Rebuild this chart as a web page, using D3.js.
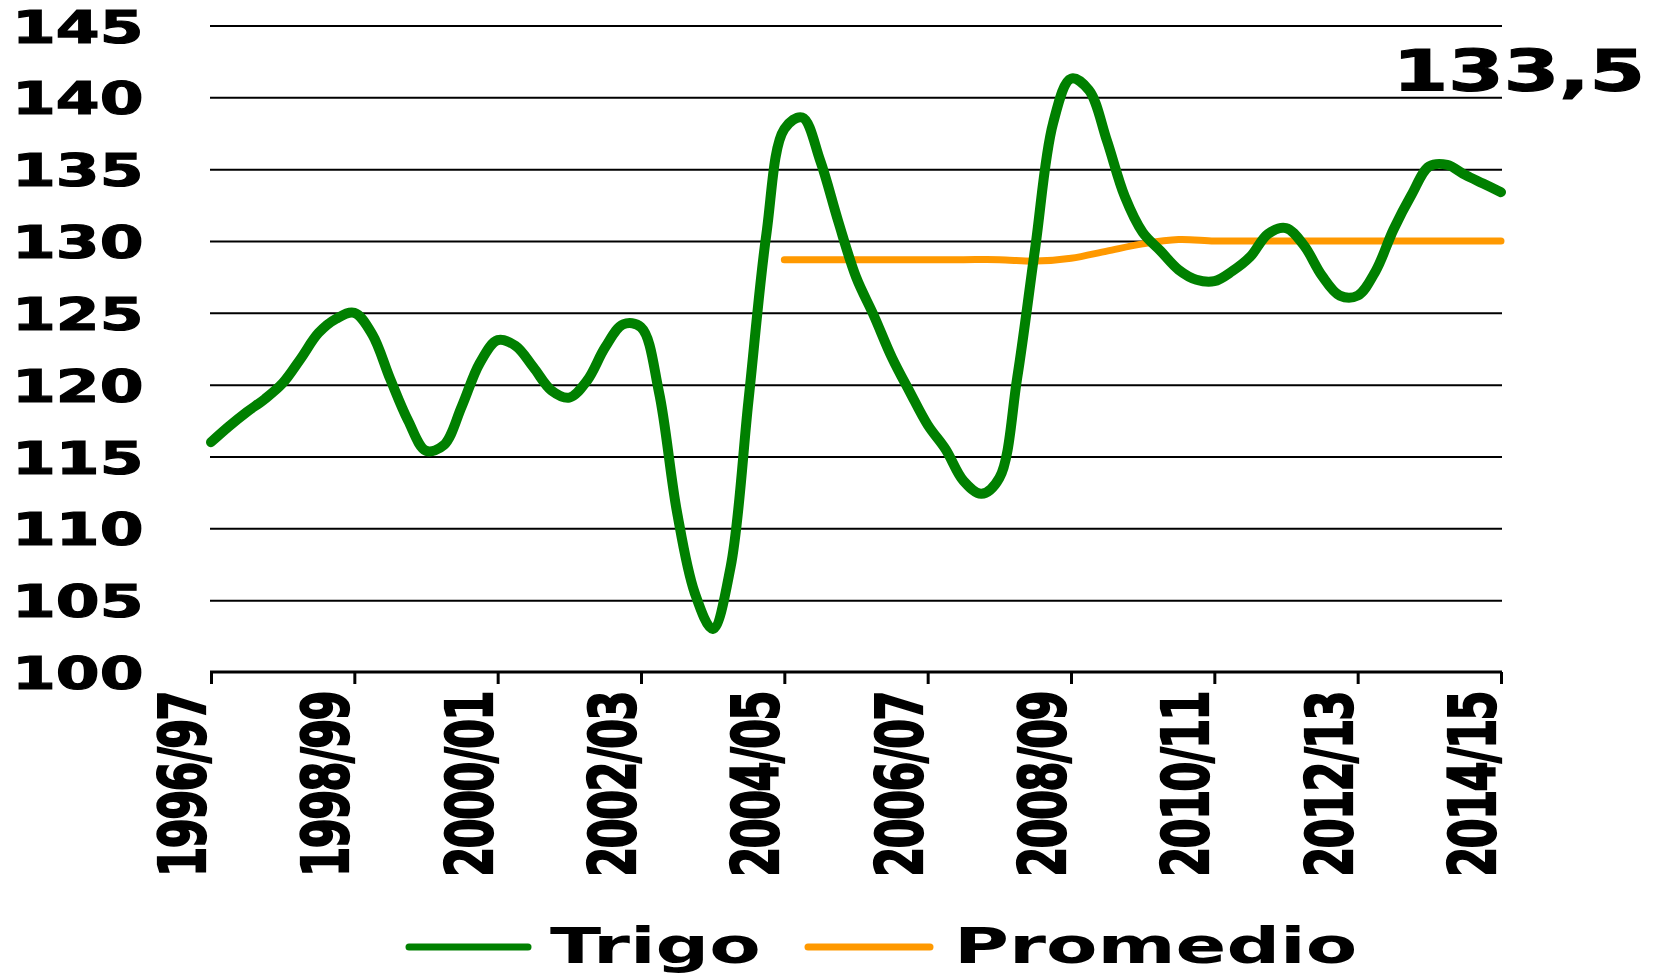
<!DOCTYPE html>
<html>
<head>
<meta charset="utf-8">
<script src="https://cdn.jsdelivr.net/npm/d3@7"></script>
<style>
  body { margin: 0; background: #fff; }
  svg text { font-family: "DejaVu Sans", sans-serif; font-weight: bold; fill: #000; }
</style>
</head>
<body>
<svg id="chart" width="1657" height="977"></svg>
<script>
// seasons on the category axis
const seasons = ["1996/97","1997/98","1998/99","1999/00","2000/01","2001/02","2002/03","2003/04","2004/05",
  "2005/06","2006/07","2007/08","2008/09","2009/10","2010/11","2011/12","2012/13","2013/14","2014/15"]
const yTicks = [100, 105, 110, 115, 120, 125, 130, 135, 140, 145]

// Trigo, read every quarter season (position 0 = 1996/97)
const trigoPos = d3.range(0, 18.01, 0.25)
const trigo = [
  116.0, 117.1, 118.1, 119.0, 120.1, 121.8, 123.6, 124.6,
  125.0, 123.5, 120.4, 117.5, 115.4, 115.8, 118.5, 121.5,
  123.1, 122.7, 121.2, 119.6, 119.1, 120.3, 122.6, 124.2,
  124.0, 119.5, 111.2, 105.5, 103.0, 107.3, 118.9, 130.5,
  137.8, 138.6, 135.6, 131.4, 127.5, 124.8, 121.9, 119.5,
  117.2, 115.5, 113.3, 112.4, 113.5, 120.5, 129.5, 138.2,
  141.3, 140.5, 137.0, 133.1, 130.6, 129.3, 128.0, 127.3,
  127.2, 127.9, 128.9, 130.5, 130.9, 129.7, 127.6, 126.2,
  126.2, 127.9, 130.8, 133.2, 135.2, 135.3, 134.6, 134.0,
  133.4
]

// Promedio, read every half season from 2004/05
const promedioPos = d3.range(8, 18.01, 0.5)
const promedio = [128.7, 128.7, 128.7, 128.7, 128.7, 128.7, 128.7, 128.6, 128.8, 129.3,
  129.8, 130.1, 130.0, 130.0, 130.0, 130.0, 130.0, 130.0, 130.0, 130.0, 130.0]

const lastLabel = "133,5"
const stretch = 1.4  // the picture is wider than tall, text is stretched sideways

const svg = d3.select("#chart")
const x = d3.scaleLinear().domain([0, 18]).range([211, 1501])
const y = d3.scaleLinear().domain([100, 145]).range([672, 25.5])

// horizontal grid
svg.append("g")
  .attr("transform", "translate(210,0)")
  .call(d3.axisLeft(y).tickValues(yTicks.slice(1)).tickSize(-1292).tickFormat(""))
  .call(g => g.select(".domain").remove())
  .call(g => g.selectAll(".tick line").attr("stroke", "#000").attr("stroke-width", 2))

// y labels
svg.append("g").selectAll("text")
  .data(yTicks)
  .join("text")
  .attr("transform", d => `translate(12,${y(d) + 17}) scale(${stretch},1)`)
  .attr("font-size", 45)
  .attr("stroke", "#000").attr("stroke-width", 1.2)
  .text(d => d)

// x axis
svg.append("g")
  .attr("transform", "translate(0,672)")
  .call(d3.axisBottom(x).tickValues(d3.range(0, 19, 2)).tickSize(12).tickSizeOuter(0).tickFormat(""))
  .call(g => g.select(".domain").attr("stroke", "#000").attr("stroke-width", 3).attr("d", "M210,0H1502"))
  .call(g => g.selectAll(".tick line").attr("stroke", "#000").attr("stroke-width", 3))

svg.append("g").selectAll("text")
  .data(d3.range(0, 19, 2))
  .join("text")
  .attr("transform", d => `translate(${x(d) - 6},692) scale(1.5,1) rotate(-90)`)
  .attr("text-anchor", "end")
  .attr("font-size", 43)
  .attr("letter-spacing", -1.5)
  .attr("stroke", "#000").attr("stroke-width", 1.5)
  .text(d => seasons[d])

const line = d3.line().curve(d3.curveCatmullRom.alpha(0.5))

// Promedio
svg.append("path")
  .attr("d", line(promedio.map((v, i) => [x(promedioPos[i]), y(v)])))
  .attr("fill", "none")
  .attr("stroke", "#ff9900")
  .attr("stroke-width", 7)
  .attr("stroke-linecap", "round")

// Trigo
svg.append("path")
  .attr("d", line(trigo.map((v, i) => [x(trigoPos[i]), y(v)])))
  .attr("fill", "none")
  .attr("stroke", "#008000")
  .attr("stroke-width", 10)
  .attr("stroke-linecap", "round")
  .attr("stroke-linejoin", "round")

// last value
svg.append("text")
  .attr("transform", `translate(1645,91) scale(${stretch},1)`)
  .attr("text-anchor", "end")
  .attr("font-size", 57)
  .attr("stroke", "#000").attr("stroke-width", 1.2)
  .text(lastLabel)

// legend
const legend = [
  { name: "Trigo", color: "#008000", x1: 409, x2: 528, tx: 550 },
  { name: "Promedio", color: "#ff9900", x1: 808, x2: 930, tx: 954 }
]
const lg = svg.append("g")
lg.selectAll("line")
  .data(legend)
  .join("line")
  .attr("x1", d => d.x1).attr("x2", d => d.x2)
  .attr("y1", 947).attr("y2", 947)
  .attr("stroke", d => d.color)
  .attr("stroke-width", 7)
  .attr("stroke-linecap", "round")
lg.selectAll("text")
  .data(legend)
  .join("text")
  .attr("transform", d => `translate(${d.tx},963) scale(1.5,1)`)
  .attr("font-size", 50)
  .text(d => d.name)
</script>
</body>
</html>
